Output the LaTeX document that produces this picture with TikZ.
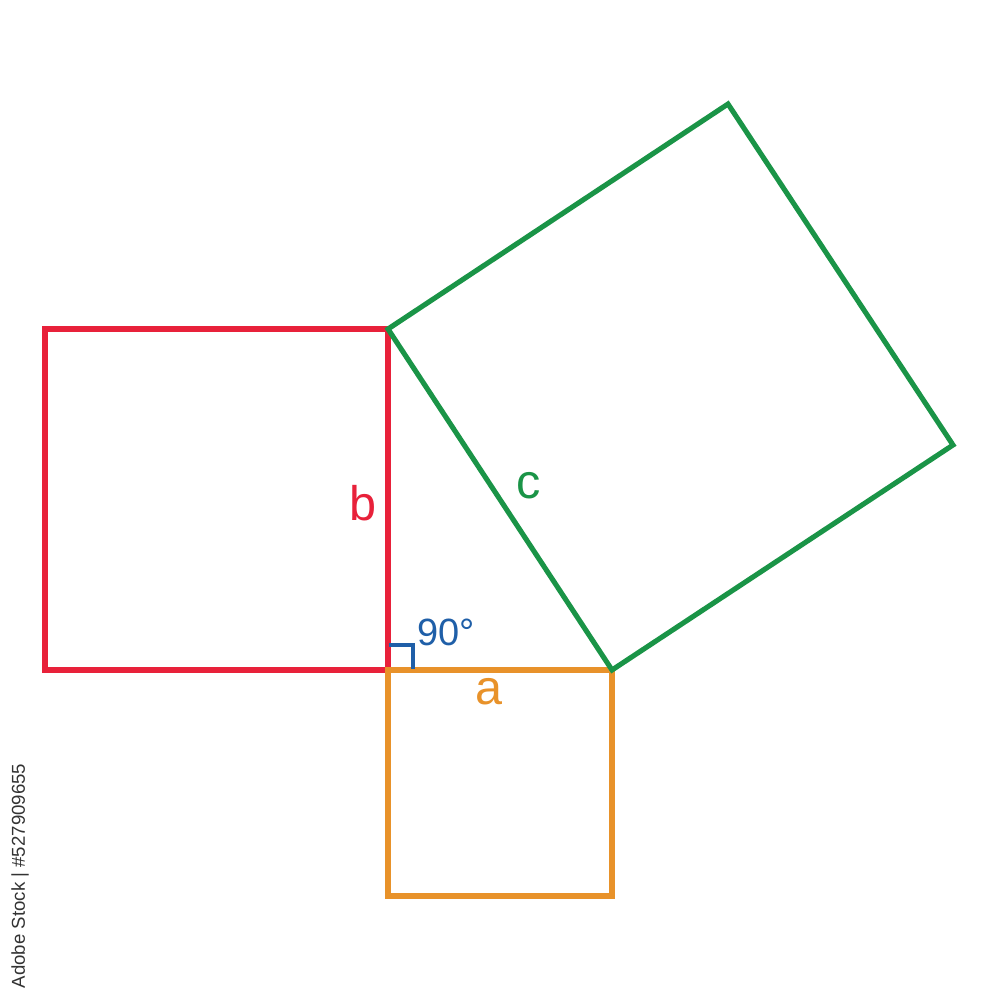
\documentclass[tikz,border=0pt]{standalone}
\usepackage{fontspec}
\setmainfont{Liberation Sans}
\definecolor{cred}{HTML}{E8213A}
\definecolor{cgreen}{HTML}{1A9447}
\definecolor{corange}{HTML}{E8922A}
\definecolor{cblue}{HTML}{1F5FA8}
\definecolor{cwm}{HTML}{333333}
\begin{document}
\begin{tikzpicture}[x=0.01cm,y=-0.01cm,
  sq/.style={line width=1.45pt, line join=miter},
  lbl/.style={font=\fontsize{13.8}{16}\selectfont, inner sep=0pt}]
\useasboundingbox (0,0) rectangle (1000,1000);
\fill[white] (0,0) rectangle (1000,1000);
\coordinate (A) at (388,670);
\coordinate (B) at (388,329);
\coordinate (C) at (612,670);
% red square on b
\draw[sq, cred] (45,329) rectangle (388,670);
% orange square on a
\draw[sq, corange] (388,670) rectangle (612,896);
% green square on c
\draw[sq, cgreen] (B) -- (728,104) -- (953,445) -- (C) -- cycle;
% right angle marker
\draw[cblue, line width=0.95pt] (389,645) -- (413,645) -- (413,669);
% labels
\node[lbl, text=cred] (lb) at (363,503) {b};
\node[lbl, text=cgreen] (lc) at (529,486) {c};
\node[lbl, text=corange] (la) at (489,692) {a};
\node[font=\fontsize{10.8}{13}\selectfont, inner sep=0pt, text=cblue] (l90) at (446,632) {90°};
\node[rotate=90, text=cwm, font=\fontsize{5.3}{6}\selectfont, inner sep=0pt] (wm) at (20,876) {Adobe Stock | \#527909655};
\end{tikzpicture}
\end{document}
